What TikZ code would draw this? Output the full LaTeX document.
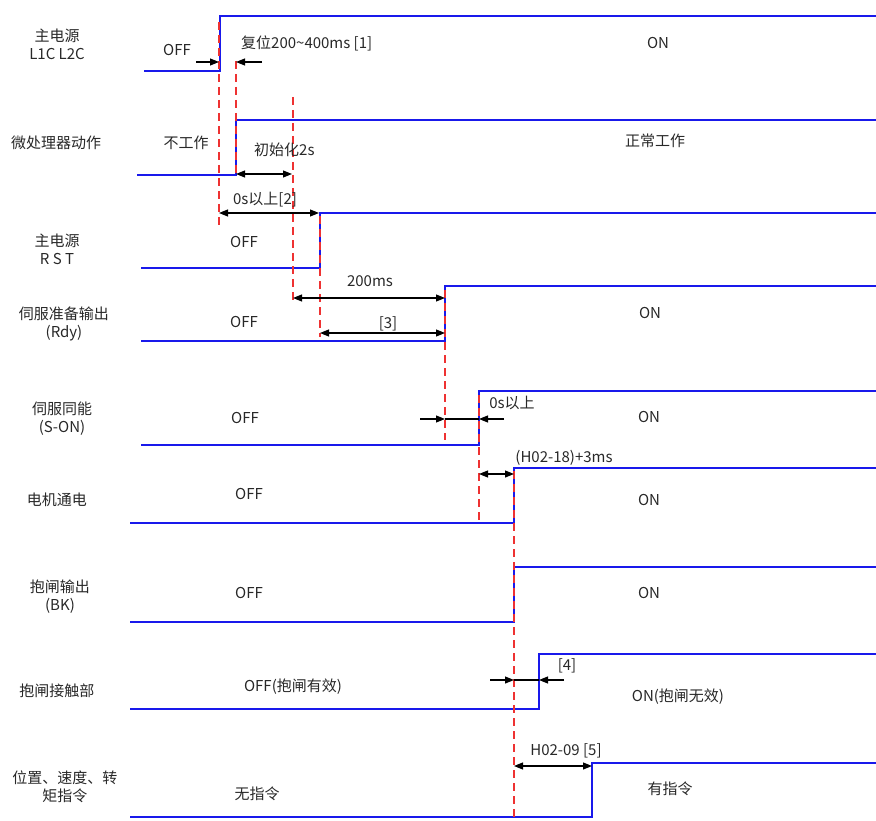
\documentclass[tikz,border=0pt]{standalone}
\usepackage{fontspec}
\setmainfont{Noto Sans CJK SC}
\usepackage{tikz}
\usepackage{xcolor}
\usetikzlibrary{arrows.meta}
\definecolor{sigblue}{RGB}{25,25,235}
\definecolor{guidered}{RGB}{238,50,50}
\definecolor{txtgray}{RGB}{40,40,40}

\begin{document}
\begin{tikzpicture}[x=1pt,y=-1pt,
  sig/.style={sigblue,line width=1.5pt},
  guide/.style={guidered,line width=1.3pt,dash pattern=on 8pt off 5pt},
  dimone/.style={black,line width=1.1pt,-{Triangle[length=9pt,width=7pt]}},
  dimtwo/.style={black,line width=1.1pt,{Triangle[length=9pt,width=7pt]}-{Triangle[length=9pt,width=7pt]}},
  txt/.style={text=txtgray,font=\fontsize{15}{18}\selectfont,inner sep=0pt,align=center}]
\useasboundingbox (0,0) rectangle (876,821);
\node[txt] (nameL1C) at (57,44) {主电源\\L1C L2C};
\node[txt] (nameCPU) at (56,143) {微处理器动作};
\node[txt] (nameRST) at (57,249) {主电源\\R S T};
\node[txt] (nameRdy) at (64,324) {伺服准备输出\\(Rdy)};
\node[txt] (nameSON) at (62,419) {伺服同能\\(S-ON)};
\node[txt] (nameMot) at (57,500) {电机通电};
\node[txt] (nameBK) at (60,597) {抱闸输出\\(BK)};
\node[txt] (nameBrk) at (57,691) {抱闸接触部};
\node[txt] (nameCmd) at (65,787) {位置、速度、转\\矩指令};
\draw[sig] (144,71) -- (220,71) -- (220,16) -- (876,16);
\draw[sig] (137,175) -- (236,175) -- (236,120) -- (876,120);
\draw[sig] (141,268) -- (320,268) -- (320,213) -- (876,213);
\draw[sig] (141,341) -- (445,341) -- (445,286) -- (876,286);
\draw[sig] (141,445) -- (479,445) -- (479,391) -- (876,391);
\draw[sig] (130,523) -- (514,523) -- (514,468) -- (876,468);
\draw[sig] (130,622) -- (514,622) -- (514,567) -- (876,567);
\draw[sig] (130,709) -- (539,709) -- (539,654) -- (876,654);
\draw[sig] (130,817) -- (592,817) -- (592,763) -- (876,763);
\draw[guide] (219,22) -- (219,227);
\draw[guide] (236,61) -- (236,175);
\draw[guide] (293,97) -- (293,300);
\draw[guide] (320,216) -- (320,337);
\draw[guide] (445,290) -- (445,440);
\draw[guide] (479,395) -- (479,523);
\draw[guide] (514,471) -- (514,821);
\draw[dimone] (196,62) -- (219,62);
\draw[dimone] (262,62) -- (236,62);
\draw[dimtwo] (236,174) -- (292,174);
\draw[dimtwo] (219,213) -- (319,213);
\draw[dimtwo] (293,298) -- (445,298);
\draw[dimtwo] (320,333) -- (445,333);
\draw[dimone] (420,419) -- (445,419);
\draw[black,line width=1.1pt] (445,419) -- (479,419);
\draw[dimone] (504,419) -- (479,419);
\draw[dimtwo] (479,474) -- (514,474);
\draw[dimone] (490,680) -- (514,680);
\draw[black,line width=1.1pt] (514,680) -- (539,680);
\draw[dimone] (564,680) -- (539,680);
\draw[dimtwo] (514,766) -- (592,766);
\node[txt] (offL1C) at (177,50) {OFF};
\node[txt,anchor=west] (tReset) at (241,43) {复位200\textasciitilde400ms [1]};
\node[txt] (onL1C) at (658,43) {ON};
\node[txt] (offCPU) at (186,143) {不工作};
\node[txt,anchor=west] (tInit) at (254,150) {初始化2s};
\node[txt] (onCPU) at (655,141) {正常工作};
\node[txt] (tZeroA) at (265,200) {0s以上[2]};
\node[txt] (offRST) at (244,242) {OFF};
\node[txt] (tRdyA) at (370,281) {200ms};
\node[txt] (tRdyB) at (388,324) {[3]};
\node[txt] (offRdy) at (244,322) {OFF};
\node[txt] (onRdy) at (650,313) {ON};
\node[txt] (tZeroB) at (512,403) {0s以上};
\node[txt] (offSON) at (245,418) {OFF};
\node[txt] (onSON) at (649,417) {ON};
\node[txt] (tMot) at (564,458) {(H02-18)+3ms};
\node[txt] (offMot) at (249,494) {OFF};
\node[txt] (onMot) at (649,500) {ON};
\node[txt] (offBK) at (249,593) {OFF};
\node[txt] (onBK) at (649,593) {ON};
\node[txt] (tBrk) at (567,666) {[4]};
\node[txt] (offBrk) at (293,687) {OFF(抱闸有效)};
\node[txt] (onBrk) at (678,697) {ON(抱闸无效)};
\node[txt] (tCmd) at (566,751) {H02-09 [5]};
\node[txt] (offCmd) at (257,794) {无指令};
\node[txt] (onCmd) at (670,789) {有指令};
\end{tikzpicture}
\end{document}
